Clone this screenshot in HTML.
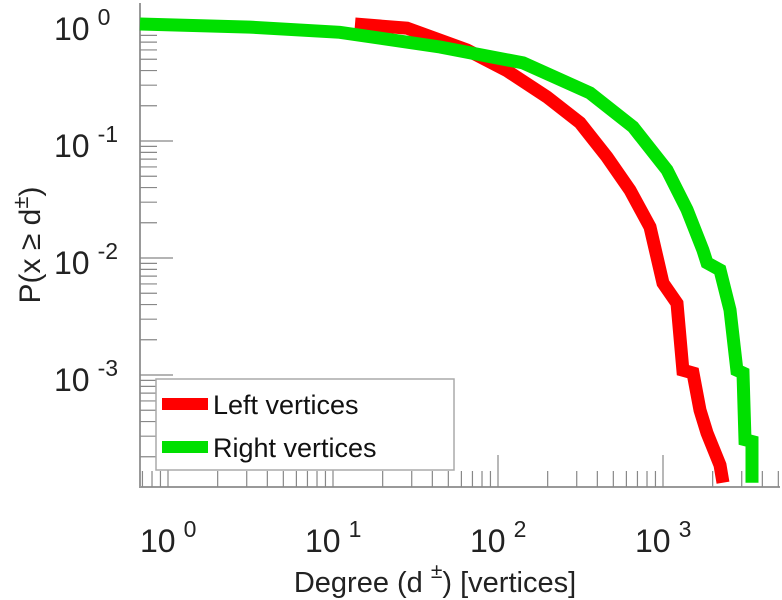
<!DOCTYPE html>
<html><head><meta charset="utf-8"><style>
html,body{margin:0;padding:0;background:#fff;}
svg{display:block;font-family:"Liberation Sans",sans-serif;}
</style></head><body>
<svg id="chart" width="782" height="600" viewBox="0 0 782 600">
<g id="grid"></g>
<g id="series"></g>
<g id="labels"></g>
<text x="435" y="592" font-size="29" fill="#222" text-anchor="middle">Degree (d <tspan dy="-14" font-size="21">±</tspan><tspan dy="14">) [vertices]</tspan></text>
<text transform="translate(40,245) rotate(-90)" font-size="30" fill="#222" text-anchor="middle">P(x ≥ d<tspan dy="-12" font-size="22">±</tspan><tspan dy="12">)</tspan></text>
<g>
<rect x="156" y="379" width="298" height="91" fill="#fff" stroke="#aaa" stroke-width="1.5"/>
<line x1="162" y1="404" x2="208" y2="404" stroke="#ff0000" stroke-width="12"/>
<text x="213" y="414" font-size="27" fill="#111">Left vertices</text>
<line x1="162" y1="447" x2="208" y2="447" stroke="#00e000" stroke-width="12"/>
<text x="213" y="457" font-size="27" fill="#111">Right vertices</text>
</g>
</svg>
<script>
const leftDeg=[13.6,28.1,64.9,113,198,314,458,631,834,1000,1216,1321,1520,1675,1848,2215,2310];
const leftP=[1.0,0.92,0.60,0.40,0.238,0.143,0.073,0.038,0.0184,0.0061,0.0041,0.0011,0.00104,0.0005,0.00032,0.00017,0.00012];
const rightDeg=[0.676,3.14,11.0,44.5,142,361,658,1057,1397,1746,1848,2215,2546,2806,3052,3141,3461,3461];
const rightP=[1.0,0.94,0.85,0.636,0.465,0.257,0.132,0.0565,0.0259,0.0117,0.0091,0.0079,0.0036,0.0011,0.00104,0.00028,0.00027,0.00012];
const xTickExps=[0,1,2,3];
const yTickExps=[0,-1,-2,-3];

const NS="http://www.w3.org/2000/svg";
const X0=140,X1=780,Y0=3,Y1=487;
const xDec0=168,xDecW=165;
const yDec0=24,yDecH=117;
function xs(v){return xDec0+Math.log10(v)*xDecW;}
function ys(v){return yDec0-Math.log10(v)*yDecH;}
function mk(tag,attrs,parent){const e=document.createElementNS(NS,tag);for(const k in attrs)e.setAttribute(k,attrs[k]);parent.appendChild(e);return e;}
const grid=document.getElementById('grid');
const ax=mk('path',{d:`M${X0},${Y0}V${Y1}H${X1}`,fill:'none',stroke:'#999','stroke-width':2},grid);


for(let e=-1;e<=4;e++){for(let m=1;m<=9;m++){const v=m*Math.pow(10,e);const x=xs(v);if(x<X0||x>X1)continue;
const t=mk('line',{x1:x,y1:Y1,x2:x,y2:Y1-(m===1?32:16),stroke:'#888','stroke-width':1.2},grid);

}}
for(let e=-5;e<=1;e++){for(let m=1;m<=9;m++){const v=m*Math.pow(10,e);const y=ys(v);if(y<Y0||y>Y1)continue;
const t=mk('line',{x1:X0,y1:y,x2:X0+(m===1?33:17),y2:y,stroke:'#888','stroke-width':1.2},grid);

}}
const lab=document.getElementById('labels');
xTickExps.forEach(e=>{const x=xs(Math.pow(10,e));
const t=mk('text',{x:x-28,y:552,'font-size':32,fill:'#222'},lab);
t.innerHTML='10<tspan dx="8" dy="-15" font-size="23">'+e+'</tspan>';

});
yTickExps.forEach(e=>{const y=ys(Math.pow(10,e));
const t=mk('text',{x:54,y:y+16,'font-size':32,fill:'#222'},lab);
t.innerHTML='10<tspan dx="8" dy="-15" font-size="23">'+e+'</tspan>';

});
const ser=document.getElementById('series');
function line(d,p,col,name){const pts=d.map((v,i)=>`${Math.max(X0,xs(v)).toFixed(1)},${Math.min(Y1,ys(p[i])).toFixed(1)}`).join(' ');
const l=mk('polyline',{points:pts,fill:'none',stroke:col,'stroke-width':13,'stroke-linejoin':'miter'},ser);

}
line(leftDeg,leftP,'#ff0000','left-vertices-line');
line(rightDeg,rightP,'#00e000','right-vertices-line');
</script>
</body></html>
